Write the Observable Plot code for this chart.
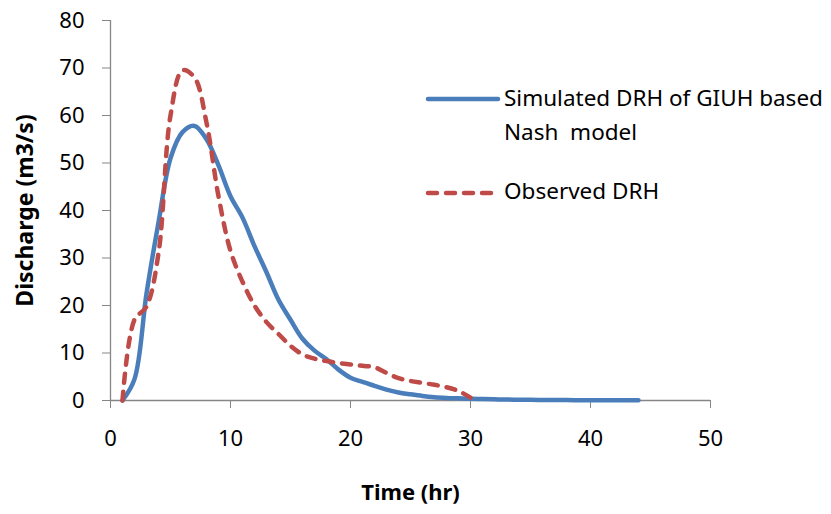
<!DOCTYPE html>
<html><head><meta charset="utf-8">
<script src="https://cdn.jsdelivr.net/npm/d3@7"></script>
<script src="https://cdn.jsdelivr.net/npm/@observablehq/plot@0.6"></script>
<style>
body{margin:0;background:#fff;}
#wrap{position:relative;width:831px;height:514px;font-family:"Noto Sans",sans-serif;}
.leg{position:absolute;font-size:22.5px;color:#000;line-height:34px;white-space:pre;}
.legline{position:absolute;}
</style></head><body><div id="wrap"></div>
<script>
const simTime = [1,2,3,4,5,6,7,8,9,10,11,12,13,14,15,16,17,18,19,20,21,22,23,24,25,26,27,28,29,30,31,32,33,34,35,36,37,38,39,40,41,42,43,44];
const simQ = [0,4.5,22.5,37.5,51,56.5,57.8,55,49.5,43,38.5,32.5,27,21.2,17,13,10.5,8.7,6.5,4.8,3.9,3.1,2.3,1.7,1.3,0.95,0.7,0.55,0.45,0.35,0.3,0.25,0.2,0.17,0.14,0.12,0.1,0.08,0.07,0.06,0.05,0.04,0.03,0.03];
const obsTime = [1,2,3,4,5,6,7,8,9,10,11,12,13,14,15,16,17,18,19,20,21,22,23,24,25,26,27,28,29,30];
const obsQ = [0,17,19.8,31,60,69.5,68,58.5,43,31.5,25,20,16.5,14,11.5,9.7,8.8,8.3,7.9,7.6,7.3,7,5.8,4.7,4.1,3.7,3.3,2.8,2,0.6];
const xTicks = [0,10,20,30,40,50];
const yTicks = [0,10,20,30,40,50,60,70,80];
const seriesNames = ["Simulated DRH of GIUH based\nNash  model", "Observed DRH"];
const seriesColors = ["#4A7EBB", "#BE4B48"];
const xTitle = "Time (hr)";
const yTitle = "Discharge (m3/s)";

const sim = simTime.map((t, i) => ({t, q: simQ[i]}));
const obs = obsTime.map((t, i) => ({t, q: obsQ[i]}));
const axisColor = "#868686";

const chart = Plot.plot({
  width: 831, height: 514,
  marginLeft: 110, marginRight: 121, marginTop: 20, marginBottom: 114,
  style: {fontFamily: "'Noto Sans', sans-serif", fontSize: "22px", color: "#000", background: "#fff"},
  x: {domain: [0, 50]},
  y: {domain: [0, 80]},
  marks: [
    Plot.axisX({ticks: xTicks, tickSize: 8, tickPadding: 22, stroke: axisColor, fill: "#000", fontSize: 22, label: null}),
    Plot.axisY({ticks: yTicks, tickSize: 8, tickPadding: 18, stroke: axisColor, fill: "#000", fontSize: 22, label: null}),
    Plot.ruleX([0], {stroke: axisColor, strokeWidth: 1.3}),
    Plot.ruleY([0], {stroke: axisColor, strokeWidth: 1.3}),
    Plot.line(sim, {x: "t", y: "q", stroke: seriesColors[0], strokeWidth: 4.5, curve: "catmull-rom"}),
    Plot.line(obs, {x: "t", y: "q", stroke: seriesColors[1], strokeWidth: 4.5, strokeDasharray: "9,9", strokeLinecap: "round", curve: "catmull-rom"}),
    Plot.text([xTitle], {frameAnchor: "bottom", textAnchor: "middle", dy: 99, fontWeight: "bold", fontSize: 22, fill: "#000"}),
    Plot.text([yTitle], {frameAnchor: "left", textAnchor: "middle", dx: -85, dy: 0, rotate: -90, fontWeight: "bold", fontSize: 23, fill: "#000"})
  ]
});
const wrap = document.getElementById("wrap");
wrap.appendChild(chart);

function legendLine(top, color, dash) {
  const ns = "http://www.w3.org/2000/svg";
  const s = document.createElementNS(ns, "svg");
  s.setAttribute("width", 80); s.setAttribute("height", 10);
  s.setAttribute("class", "legline");
  s.style.left = "424px"; s.style.top = (top - 5) + "px";
  const l = document.createElementNS(ns, "line");
  l.setAttribute("x1", 4); l.setAttribute("x2", 74); l.setAttribute("y1", 5); l.setAttribute("y2", 5);
  l.setAttribute("stroke", color); l.setAttribute("stroke-width", 4.5);
  l.setAttribute("stroke-linecap", "round");
  if (dash) l.setAttribute("stroke-dasharray", dash);
  s.appendChild(l);
  wrap.appendChild(s);
}
function legendText(top, text) {
  const d = document.createElement("div");
  d.className = "leg"; d.style.left = "504px"; d.style.top = top + "px";
  d.textContent = text;
  wrap.appendChild(d);
}
legendLine(99, seriesColors[0], null);
legendText(81, seriesNames[0]);
legendLine(193, seriesColors[1], "9,9");
legendText(174, seriesNames[1]);
</script></body></html>
